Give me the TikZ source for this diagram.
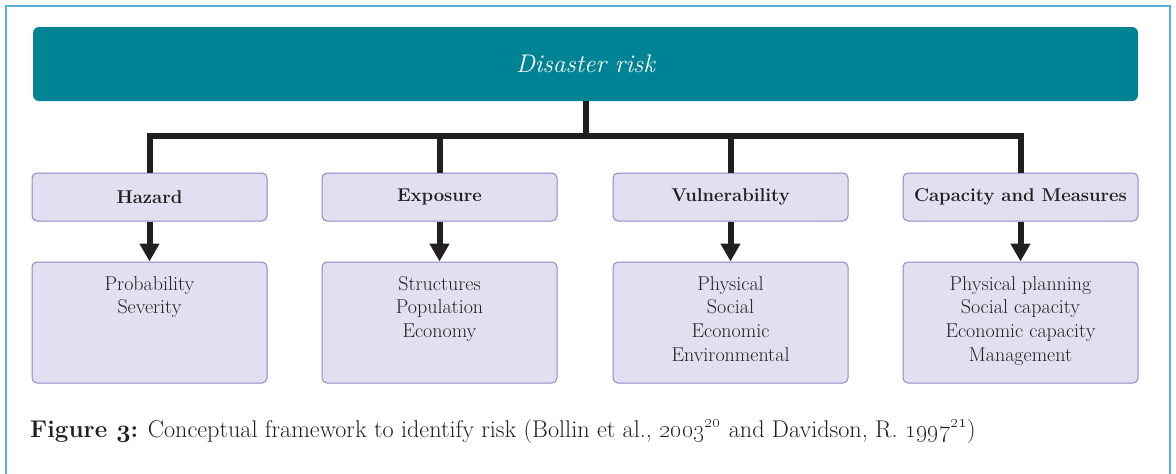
\documentclass[tikz,border=0pt]{standalone}
\usetikzlibrary{arrows.meta}
\definecolor{teal0}{RGB}{0,131,149}
\definecolor{lav}{RGB}{224,224,240}
\definecolor{lavline}{RGB}{140,135,200}
\definecolor{frameblue}{RGB}{90,175,215}
\definecolor{ink}{RGB}{35,31,32}
\newcommand{\osnb}[1]{{\fontencoding{OML}\fontfamily{cmm}\fontseries{b}\fontshape{it}\selectfont #1}}
\begin{document}
\begin{tikzpicture}[x=1pt,y=-1pt,
  titlebox/.style={fill=teal0,draw=none,rounded corners=6pt,minimum width=1105pt,minimum height=74pt,inner sep=0pt,text=white,font=\fontsize{25.5}{30}\selectfont\itshape},
  headbox/.style={fill=lav,draw=lavline,line width=1pt,rounded corners=5pt,minimum width=235pt,minimum height=48pt,inner sep=0pt,text=ink,font=\fontsize{18.5}{22}\selectfont\bfseries},
  itembox/.style={fill=lav,draw=lavline,line width=1pt,rounded corners=5pt,minimum width=235pt,minimum height=121pt,inner sep=0pt,text=ink},
  itemtext/.style={anchor=north,align=center,inner sep=0pt,text=ink,font=\fontsize{20}{23.7}\selectfont},
  bus/.style={draw=ink,line width=6pt,line join=miter},
  down/.style={draw=ink,line width=6pt,-{Triangle[width=19pt,length=18pt]}}
]
\useasboundingbox (0,0) rectangle (1176,474);
\draw[frameblue,line width=1.2pt] (6,480) -- (6,6) -- (1170,6) -- (1170,480);

\node[titlebox] (title) at (585.5,64) {Disaster risk};

\node[headbox] (h1) at (149.5,197) {Hazard};
\node[headbox] (h2) at (439.5,197) {Exposure};
\node[headbox] (h3) at (730.5,197) {Vulnerability};
\node[headbox] (h4) at (1020.5,197) {Capacity and Measures};

\node[itembox] (b1) at (149.5,322.5) {};
\node[itembox] (b2) at (439.5,322.5) {};
\node[itembox] (b3) at (730.5,322.5) {};
\node[itembox] (b4) at (1020.5,322.5) {};

\node[itemtext] (t1) at ([yshift=-14.6pt]b1.north) {Probability\\Severity};
\node[itemtext] (t2) at ([yshift=-14.6pt]b2.north) {Structures\\Population\\Economy};
\node[itemtext] (t3) at ([yshift=-14.6pt]b3.north) {Physical\\Social\\Economic\\Environmental};
\node[itemtext] (t4) at ([yshift=-14.6pt]b4.north) {Physical planning\\Social capacity\\Economic capacity\\Management};

\coordinate (busy) at (585.5,136);
\draw[bus] (h1.north) -- (h1.north |- busy) -- (h4.north |- busy) -- (h4.north);
\draw[bus] (title.south) -- (title.south |- busy);
\draw[bus] (h2.north) -- (h2.north |- busy);
\draw[bus] (h3.north) -- (h3.north |- busy);

\draw[down] (h1.south) -- (b1.north);
\draw[down] (h2.south) -- (b2.north);
\draw[down] (h3.south) -- (b3.north);
\draw[down] (h4.south) -- (b4.north);

\node[anchor=base west,inner sep=0pt,text=ink,font=\fontsize{24.2}{28}\selectfont] (cap) at (30,437)
  {\textbf{Figure \osnb{3}:} Conceptual framework to identify risk (Bollin et al., \oldstylenums{2003}\textsuperscript{\oldstylenums{20}} and Davidson, R. \oldstylenums{1997}\textsuperscript{\oldstylenums{21}})};
\end{tikzpicture}
\end{document}
